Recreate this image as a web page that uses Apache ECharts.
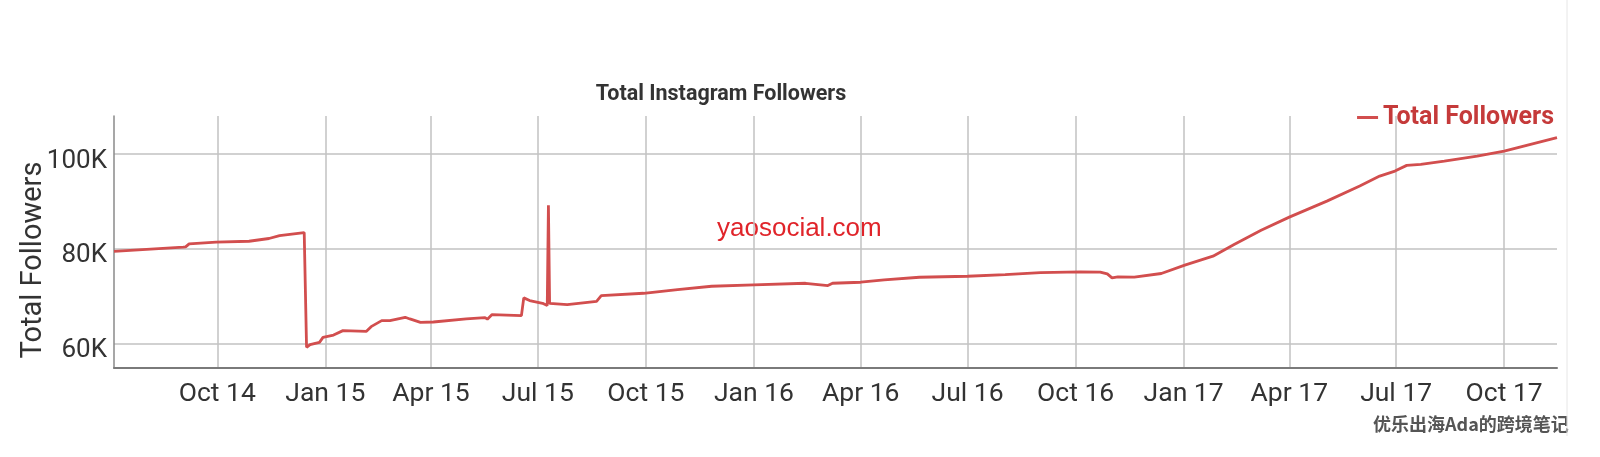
<!DOCTYPE html>
<html>
<head>
<meta charset="utf-8">
<script src="https://cdn.jsdelivr.net/npm/echarts@6/dist/echarts.min.js"></script>
<style>
html,body{margin:0;padding:0;background:#fff;}
#chart{width:1600px;height:457px;}
</style>
</head>
<body>
<div id="chart"></div>
<script>
const chartTitle = 'Total Instagram Followers';
const seriesName = 'Total Followers';
const yAxisName = 'Total Followers';

const dates = ['2014-07-05','2014-09-02','2014-09-04','2014-09-07','2014-09-30','2014-10-28','2014-11-14','2014-11-23','2014-12-14','2014-12-16','2014-12-19','2014-12-27','2014-12-30','2015-01-08','2015-01-16','2015-02-05','2015-02-09','2015-02-18','2015-02-25','2015-03-10','2015-03-14','2015-03-23','2015-04-03','2015-05-01','2015-05-17','2015-05-19','2015-05-23','2015-06-17','2015-06-19','2015-06-24','2015-07-05','2015-07-09','2015-07-10','2015-07-11','2015-07-26','2015-08-20','2015-08-24','2015-09-29','2015-10-28','2015-11-26','2016-01-01','2016-02-14','2016-03-04','2016-03-08','2016-04-01','2016-04-21','2016-05-21','2016-07-01','2016-08-02','2016-09-01','2016-10-05','2016-10-22','2016-10-28','2016-11-01','2016-11-06','2016-11-20','2016-12-13','2017-01-02','2017-01-26','2017-02-13','2017-03-08','2017-04-01','2017-05-03','2017-05-31','2017-06-17','2017-06-30','2017-07-10','2017-07-22','2017-08-11','2017-09-08','2017-10-01','2017-10-21','2017-11-15'];

const followers = [79450,80340,80400,81050,81400,81600,82180,82800,83440,59210,59780,60270,61320,61800,62740,62600,63580,64850,64850,65550,65200,64490,64560,65210,65500,65150,66120,65900,69650,69080,68500,68020,89200,68500,68220,68920,70120,70620,71390,72100,72380,72730,72240,72730,72950,73440,74000,74210,74570,74990,75130,75100,74720,73870,74080,74010,74790,76550,78450,80920,83940,86690,90070,93240,95350,96410,97610,97820,98520,99580,100630,101900,103450];

const xTickDates = ['2014-10-01','2015-01-01','2015-04-01','2015-07-01','2015-10-01','2016-01-01','2016-04-01','2016-07-01','2016-10-01','2017-01-01','2017-04-01','2017-07-01','2017-10-01'];
const xTickLabels = ['Oct 14','Jan 15','Apr 15','Jul 15','Oct 15','Jan 16','Apr 16','Jul 16','Oct 16','Jan 17','Apr 17','Jul 17','Oct 17'];

const yTickValues = [60000, 80000, 100000];
const yTickLabels = ['60K', '80K', '100K'];

const xRange = ['2014-07-05', '2017-11-15'];
const yRange = [54850, 108030];

const watermark1 = 'yaosocial.com';
const watermark2 = '优乐出海Ada的跨境笔记';

function toTs(s){ const p = s.split('-').map(Number); return Date.UTC(p[0], p[1]-1, p[2]); }
const xTickTs = xTickDates.map(toTs);
const seriesData = dates.map((d,i) => [toTs(d), followers[i]]);

const chart = echarts.init(document.getElementById('chart'), null, {renderer:'canvas'});
chart.setOption({
  backgroundColor: '#fff',
  animation: false,
  title: {
    text: chartTitle,
    left: 716, top: 79, textAlign: 'center',
    textStyle: {fontFamily: 'Roboto', fontWeight: 'bold', fontSize: 21.5, color: '#333'}
  },
  legend: {
    data: [seriesName],
    right: 46, top: 105, padding: 0,
    icon: 'rect', itemWidth: 21, itemHeight: 3,
    textStyle: {fontFamily: 'Roboto', fontWeight: 'bold', fontSize: 25, color: '#c53a3a'}
  },
  grid: {left: 114, right: 43, top: 116, bottom: 89, containLabel: false},
  xAxis: {
    type: 'value',
    min: toTs(xRange[0]), max: toTs(xRange[1]),
    axisLine: {show: true, lineStyle: {color: '#7a7a7a', width: 2}},
    axisTick: {show: false, customValues: xTickTs},
    splitLine: {show: true, lineStyle: {color: '#c2c2c2', width: 1.5}},
    axisLabel: {
      customValues: xTickTs,
      margin: 13,
      fontFamily: 'Roboto', fontSize: 26.5, color: '#333',
      formatter: function(v){ const i = xTickTs.indexOf(v); return i >= 0 ? xTickLabels[i] : ''; }
    }
  },
  yAxis: {
    type: 'value',
    min: yRange[0], max: yRange[1],
    axisLine: {show: true, lineStyle: {color: '#8a8a8a', width: 1.5}},
    axisTick: {show: false, customValues: yTickValues},
    splitLine: {show: true, lineStyle: {color: '#c2c2c2', width: 1.5}},
    axisLabel: {
      customValues: yTickValues,
      margin: 7,
      verticalAlign: 'top',
      lineHeight: 14,
      fontFamily: 'Roboto', fontSize: 26, color: '#333',
      formatter: function(v){ const i = yTickValues.indexOf(v); return i >= 0 ? yTickLabels[i] : ''; }
    }
  },
  graphic: [
    {type: 'text', x: 34, y: 260, rotation: Math.PI / 2, style: {text: yAxisName, align: 'center', verticalAlign: 'middle', fontFamily: 'Roboto', fontSize: 29, fill: '#333'}},
    {type: 'text', left: 717, top: 216, style: {text: watermark1, fontFamily: 'Liberation Sans', fontSize: 26, fill: '#e0242a'}},
    {type: 'text', left: 1373, top: 415, style: {text: watermark2, fontFamily: 'Noto Sans CJK SC', fontWeight: 'bold', fontSize: 18, fill: '#555'}},
    {type: 'line', shape: {x1: 1567, y1: 0, x2: 1567, y2: 436}, style: {stroke: '#e6e6e6', lineWidth: 1}}
  ],
  series: [{
    name: seriesName,
    type: 'line',
    data: seriesData,
    showSymbol: false,
    symbol: 'none',
    lineStyle: {color: '#d24e4e', width: 2.8},
    itemStyle: {color: '#d24e4e'}
  }]
});
</script>
</body>
</html>
